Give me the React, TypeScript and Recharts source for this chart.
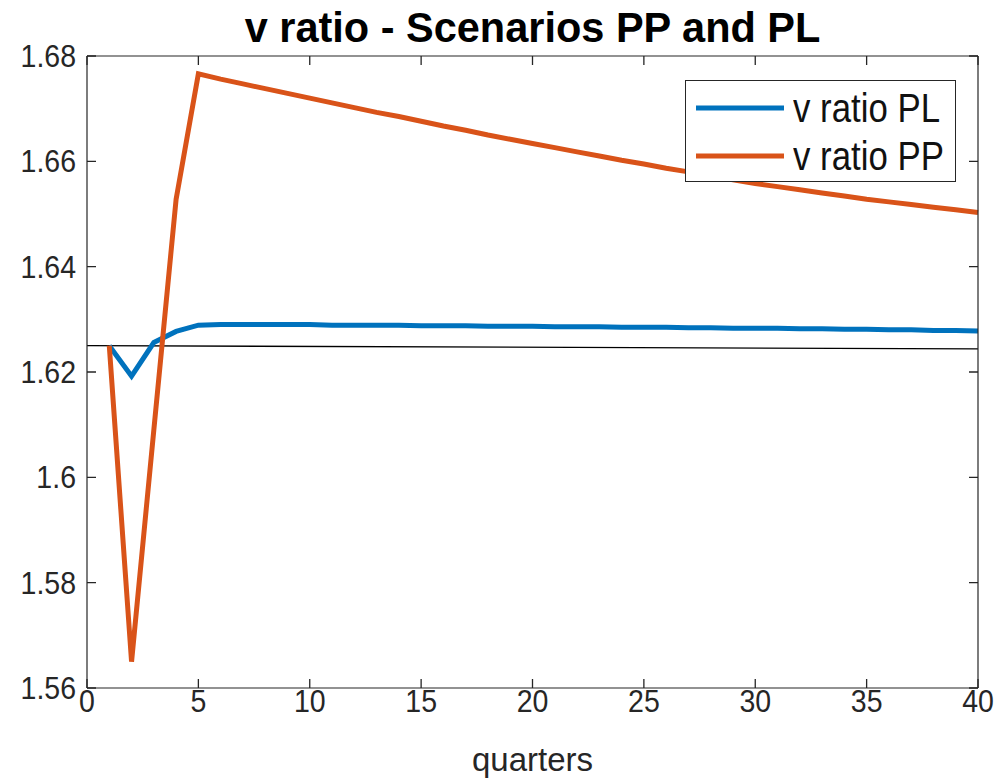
import { CartesianGrid, Legend, Line, LineChart, XAxis, YAxis } from 'recharts';

const FONT = '"Liberation Sans", Arial, Helvetica, sans-serif';
const AXIS = '#262626';
const BLUE = '#0072BD';
const ORANGE = '#D95319';

// quarters 1..40
const quarters = [
  1, 2, 3, 4, 5, 6, 7, 8, 9, 10, 11, 12, 13, 14, 15, 16, 17, 18, 19, 20,
  21, 22, 23, 24, 25, 26, 27, 28, 29, 30, 31, 32, 33, 34, 35, 36, 37, 38, 39, 40,
];

const ratioPL = [
  1.625, 1.6192, 1.6256, 1.6277, 1.6289, 1.629, 1.629, 1.629, 1.629, 1.629,
  1.6289, 1.6289, 1.6289, 1.6289, 1.6288, 1.6288, 1.6288, 1.6287, 1.6287, 1.6287,
  1.6286, 1.6286, 1.6286, 1.6285, 1.6285, 1.6285, 1.6284, 1.6284, 1.6283, 1.6283,
  1.6283, 1.6282, 1.6282, 1.6281, 1.6281, 1.628, 1.628, 1.6279, 1.6279, 1.6278,
];

const ratioPP = [
  1.625, 1.565, 1.609, 1.6528, 1.6766, 1.6756, 1.6747, 1.6738, 1.6729, 1.672,
  1.6711, 1.6702, 1.6693, 1.6685, 1.6676, 1.6667, 1.6659, 1.665, 1.6642, 1.6634,
  1.6626, 1.6618, 1.661, 1.6602, 1.6595, 1.6587, 1.658, 1.6572, 1.6565, 1.6558,
  1.6552, 1.6546, 1.654, 1.6534, 1.6528, 1.6523, 1.6518, 1.6513, 1.6508, 1.6503,
];

// steady-state reference line
const steadyQuarters = [0, 40];
const steadyValues = [1.625, 1.6244];

const xTicks = [0, 5, 10, 15, 20, 25, 30, 35, 40];
const yTicks = [1.56, 1.58, 1.6, 1.62, 1.64, 1.66, 1.68];

const rows = quarters.map((q, i) => ({ q, pl: ratioPL[i], pp: ratioPP[i] }));
const steadyRows = steadyQuarters.map((q, i) => ({ q, ss: steadyValues[i] }));

const fmtY = (v: number) => String(Number(v.toFixed(2)));

const CHART_W = 1000;
const CHART_H = 779;
const MARGIN = { top: 55, right: 21, bottom: 0, left: 0 };
const Y_AXIS_W = 87;
const X_AXIS_H = 91;
const PLOT_W = CHART_W - MARGIN.left - MARGIN.right - Y_AXIS_W - 1;
const PLOT_H = CHART_H - MARGIN.top - MARGIN.bottom - X_AXIS_H - 1;

// inward tick marks: grid lines dashed so only the two ends show
const TICK_LEN = 9;
const vTickDash = `${TICK_LEN} ${PLOT_H - 2 * TICK_LEN}`;
const hTickDash = `${TICK_LEN} ${PLOT_W - 2 * TICK_LEN}`;

const axisLine = { stroke: AXIS, strokeWidth: 1.2 };

const tickMarks = (dash: string) => (p: any) => (
  <line
    key={p.key}
    x1={p.x1}
    y1={p.y1}
    x2={p.x2}
    y2={p.y2}
    stroke={AXIS}
    strokeWidth={1.3}
    strokeDasharray={dash}
    fill="none"
  />
);

function BottomTick({ x, y, payload }: any) {
  return (
    <text
      transform={`translate(${x},${y + 24}) scale(0.92,1)`}
      textAnchor="middle"
      fontSize={31}
      fill={AXIS}
      fontFamily={FONT}
    >
      {payload.value}
    </text>
  );
}

function LeftTick({ x, y, payload }: any) {
  return (
    <text
      transform={`translate(${x - 11},${y + 11}) scale(0.92,1)`}
      textAnchor="end"
      fontSize={31}
      fill={AXIS}
      fontFamily={FONT}
    >
      {fmtY(payload.value)}
    </text>
  );
}

function LegendBox({ payload }: any) {
  const items = (payload || []).filter((p: any) => p.type !== 'none');
  return (
    <div
      style={{
        width: 271,
        height: 102,
        boxSizing: 'border-box',
        border: `1px solid ${AXIS}`,
        background: '#fff',
        paddingTop: 3,
      }}
    >
      {items.map((p: any) => (
        <div key={p.value} style={{ display: 'flex', alignItems: 'center', height: 48 }}>
          <svg width={98} height={10} style={{ flex: 'none' }}>
            <line x1={10} y1={5} x2={98} y2={5} stroke={p.color} strokeWidth={5} />
          </svg>
          <span
            style={{
              marginLeft: 9,
              fontFamily: FONT,
              fontSize: 40,
              color: '#111',
              lineHeight: 1,
              display: 'inline-block',
              whiteSpace: 'nowrap',
              transform: 'scaleX(0.87)',
              transformOrigin: 'left center',
            }}
          >
            {p.value}
          </span>
        </div>
      ))}
    </div>
  );
}

export default function App() {
  return (
    <div style={{ position: 'absolute', left: 0, top: 0, width: CHART_W, height: CHART_H, background: '#fff' }}>
      <div
        style={{
          position: 'absolute',
          left: 87,
          width: 891,
          top: 6,
          textAlign: 'center',
          fontFamily: FONT,
          fontWeight: 'bold',
          fontSize: 43,
          lineHeight: '43px',
          color: '#000',
          whiteSpace: 'nowrap',
          transform: 'scaleX(0.965)',
          zIndex: 2,
        }}
      >
        v ratio - Scenarios PP and PL
      </div>
      <LineChart width={CHART_W} height={CHART_H} data={rows} margin={MARGIN}>
        <CartesianGrid
          stroke={AXIS}
          horizontal={tickMarks(hTickDash)}
          vertical={tickMarks(vTickDash)}
        />
        <XAxis
          dataKey="q"
          type="number"
          domain={[0, 40]}
          ticks={xTicks}
          height={X_AXIS_H}
          tickSize={0}
          tickMargin={0}
          tickLine={false}
          tick={<BottomTick />}
          axisLine={axisLine}
          label={{ value: 'quarters', position: 'insideBottom', offset: 8, fontSize: 33, fill: AXIS, fontFamily: FONT }}
        />
        <XAxis
          xAxisId="top"
          orientation="top"
          type="number"
          domain={[0, 40]}
          ticks={xTicks}
          height={1}
          tickLine={false}
          tick={false}
          axisLine={axisLine}
        />
        <YAxis
          type="number"
          domain={[1.56, 1.68]}
          ticks={yTicks}
          width={Y_AXIS_W}
          tickSize={0}
          tickMargin={0}
          tickLine={false}
          tick={<LeftTick />}
          axisLine={axisLine}
        />
        <YAxis
          yAxisId="right"
          orientation="right"
          type="number"
          domain={[1.56, 1.68]}
          ticks={yTicks}
          width={1}
          tickLine={false}
          tick={false}
          axisLine={axisLine}
        />
        <Line
          data={steadyRows}
          dataKey="ss"
          stroke="#000"
          strokeWidth={1.3}
          dot={false}
          legendType="none"
          isAnimationActive={false}
        />
        <Line
          dataKey="pl"
          name="v ratio PL"
          stroke={BLUE}
          strokeWidth={5}
          dot={false}
          isAnimationActive={false}
        />
        <Line
          dataKey="pp"
          name="v ratio PP"
          stroke={ORANGE}
          strokeWidth={5}
          dot={false}
          isAnimationActive={false}
        />
        <Legend
          layout="horizontal"
          align="center"
          verticalAlign="middle"
          content={<LegendBox />}
          wrapperStyle={{ left: 685, top: 80, width: 271, height: 102 }}
        />
      </LineChart>
    </div>
  );
}
